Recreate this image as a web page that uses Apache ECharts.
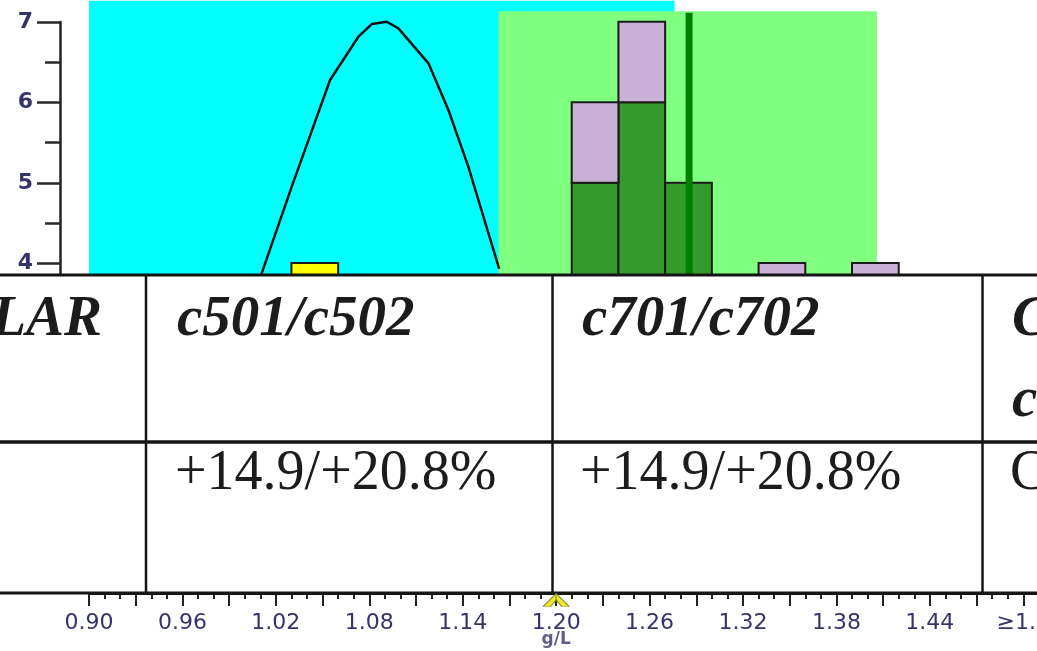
<!DOCTYPE html>
<html>
<head>
<meta charset="utf-8">
<script src="https://cdn.jsdelivr.net/npm/echarts@6/dist/echarts.min.js"></script>
<style>
html,body{margin:0;padding:0;background:#fff;}
#main{width:1037px;height:651px;}
</style>
</head>
<body>
<div id="main"></div>
<script>
// ---------- data ----------
const xLabelValues = [0.90, 0.96, 1.02, 1.08, 1.14, 1.20, 1.26, 1.32, 1.38, 1.44, 1.50];
const xLabelTexts  = ['0.90','0.96','1.02','1.08','1.14','1.20','1.26','1.32','1.38','1.44','≥1.5'];
const yLabelValues = [0, 1, 2, 3, 4, 5, 6, 7];

const cyanRange  = [0.90, 1.276];   // x extent
const cyanTop    = 7.26;
const greenRange = [1.163, 1.406];
const greenTop   = 7.13;

const binStarts   = [1.03, 1.21, 1.24, 1.27, 1.33, 1.39];
const binWidth    = 0.03;
const yellowCounts = [4, 0, 0, 0, 0, 0];
const greenCounts  = [0, 5, 6, 5, 0, 0];
const lilacCounts  = [0, 1, 1, 0, 4, 4];

const curveX = [1.0105, 1.0302, 1.0548, 1.0730, 1.0816, 1.0912, 1.0987, 1.1180, 1.1308, 1.1436, 1.1634];
const curveY = [3.85, 4.95, 6.276, 6.814, 6.971, 7.0, 6.918, 6.483, 5.903, 5.199, 3.93];

const meanValue = 1.2854;
const meanTop   = 7.11;
const targetValue = 1.20;
const unitLabel = 'g/L';

const headerTexts = ['LAR', 'c501/c502', 'c701/c702', 'C'];
const headerLine2 = ['', '', '', 'c'];
const bodyTexts   = ['', '+14.9/+20.8%', '+14.9/+20.8%', 'C'];

// ---------- chart ----------
const chart = echarts.init(document.getElementById('main'), null, {renderer: 'canvas'});

function stackedRender(counts, bases, color) {
  return function (params, api) {
    const i = params.dataIndex;
    const start = api.value(0), cnt = api.value(1);
    if (!cnt) return null;
    const base = bases[i];
    const p0 = api.coord([start, base]);
    const p1 = api.coord([start + binWidth, base + cnt]);
    return {
      type: 'rect',
      shape: {x: p0[0], y: p1[1], width: p1[0] - p0[0], height: p0[1] - p1[1]},
      style: {fill: color, stroke: '#1a1a1a', lineWidth: 2}
    };
  };
}
const zeroBase = binStarts.map(() => 0);
const lilacBase = binStarts.map((_, i) => yellowCounts[i] + greenCounts[i]);

function rangeRender(range, top, color) {
  return function (params, api) {
    const p0 = api.coord([range[0], 0]);
    const p1 = api.coord([range[1], top]);
    return {type: 'rect', shape: {x: p0[0], y: p1[1], width: p1[0] - p0[0], height: p0[1] - p1[1]},
      style: {fill: color}};
  };
}

const labelFont = {fontFamily: 'DejaVu Sans', color: '#34346a'};

const tableZ = 100;
const serifBI = {fontFamily: 'Liberation Serif', fontWeight: 'bold', fontStyle: 'italic', fontSize: 57, fill: '#1c1c1c'};
const serifR  = {fontFamily: 'Liberation Serif', fontWeight: 'normal', fontStyle: 'normal', fontSize: 56, fill: '#1c1c1c'};
const colX = [102, 177, 582, 1012];
const graphics = [
  {type: 'rect', z: tableZ, shape: {x: 0, y: 274, width: 1037, height: 319}, style: {fill: '#ffffff'}},
  {type: 'line', z: tableZ + 1, shape: {x1: 0, y1: 275, x2: 1037, y2: 275}, style: {stroke: '#151515', lineWidth: 3}},
  {type: 'line', z: tableZ + 1, shape: {x1: 0, y1: 442, x2: 1037, y2: 442}, style: {stroke: '#151515', lineWidth: 3.5}},
  {type: 'line', z: tableZ + 1, shape: {x1: 0, y1: 593, x2: 1037, y2: 593}, style: {stroke: '#151515', lineWidth: 3}},
  {type: 'line', z: tableZ + 1, shape: {x1: 146, y1: 275, x2: 146, y2: 593}, style: {stroke: '#151515', lineWidth: 2.5}},
  {type: 'line', z: tableZ + 1, shape: {x1: 552.5, y1: 275, x2: 552.5, y2: 593}, style: {stroke: '#151515', lineWidth: 2.5}},
  {type: 'line', z: tableZ + 1, shape: {x1: 982.5, y1: 275, x2: 982.5, y2: 593}, style: {stroke: '#151515', lineWidth: 2.5}}
];
headerTexts.forEach((t, i) => {
  if (!t) return;
  graphics.push({type: 'text', z: tableZ + 2, x: colX[i], y: 320,
    style: Object.assign({text: t, textAlign: i === 0 ? 'right' : 'left', textVerticalAlign: 'middle'}, serifBI)});
});
headerLine2.forEach((t, i) => {
  if (!t) return;
  graphics.push({type: 'text', z: tableZ + 2, x: colX[i], y: 401,
    style: Object.assign({text: t, textAlign: 'left', textVerticalAlign: 'middle'}, serifBI)});
});
bodyTexts.forEach((t, i) => {
  if (!t) return;
  graphics.push({type: 'text', z: tableZ + 2, x: colX[i] - 2, y: 474,
    style: Object.assign({text: t, textAlign: 'left', textVerticalAlign: 'middle'}, serifR)});
});

const option = {
  animation: false,
  backgroundColor: '#ffffff',
  grid: [
    {left: 89, width: 981, top: 0, bottom: 58, containLabel: false, outerBoundsMode: 'none'},
    {left: 60, width: 10, top: 22, bottom: 66, containLabel: false, outerBoundsMode: 'none'}
  ],
  xAxis: [
    {
      gridIndex: 0, type: 'value', min: 0.90, max: 1.53, interval: 0.03,
      axisLine: {show: true, onZero: false, lineStyle: {color: '#151515', width: 3}},
      axisTick: {show: true, length: 13, lineStyle: {color: '#222', width: 2}},
      minorTick: {show: true, splitNumber: 3, length: 6, lineStyle: {color: '#222', width: 2}},
      splitLine: {show: false},
      axisLabel: Object.assign({
        margin: 19, fontSize: 22,
        formatter: function (v) {
          const c = Math.round(v * 1000);
          const k = xLabelValues.findIndex(x => Math.round(x * 1000) === c);
          return k >= 0 ? xLabelTexts[k] : '';
        }
      }, labelFont)
    },
    {gridIndex: 1, type: 'value', show: false, min: 0, max: 1}
  ],
  yAxis: [
    {gridIndex: 0, type: 'value', show: false, min: -0.1, max: 7.27, splitLine: {show: false}},
    {
      gridIndex: 1, type: 'value', min: 0, max: 7, interval: 1,
      axisLine: {show: true, lineStyle: {color: '#222', width: 2.5}},
      axisTick: {show: true, length: 23, lineStyle: {color: '#2a2a2a', width: 2.5}},
      minorTick: {show: true, splitNumber: 2, length: 15, lineStyle: {color: '#2a2a2a', width: 2.5}},
      splitLine: {show: false},
      axisLabel: Object.assign({margin: 27, fontSize: 22, fontWeight: 'bold',
        formatter: v => yLabelValues.indexOf(v) >= 0 ? String(v) : ''}, labelFont)
    }
  ],
  series: [
    {type: 'custom', xAxisIndex: 0, yAxisIndex: 0, z: 1, silent: true,
      renderItem: rangeRender(cyanRange, cyanTop, '#00ffff'), data: [[cyanRange[0], cyanRange[1]]]},
    {type: 'custom', xAxisIndex: 0, yAxisIndex: 0, z: 1, silent: true,
      renderItem: rangeRender(greenRange, greenTop, '#80ff80'), data: [[greenRange[0], greenRange[1]]]},
    {type: 'line', xAxisIndex: 0, yAxisIndex: 0, z: 3, symbol: 'none', smooth: false,
      lineStyle: {color: '#111', width: 2.5},
      data: curveX.map((x, i) => [x, curveY[i]])},
    {type: 'custom', xAxisIndex: 0, yAxisIndex: 0, z: 4,
      renderItem: stackedRender(yellowCounts, zeroBase, '#ffff00'),
      data: binStarts.map((s, i) => [s, yellowCounts[i]])},
    {type: 'custom', xAxisIndex: 0, yAxisIndex: 0, z: 4,
      renderItem: stackedRender(greenCounts, zeroBase, '#349a2c'),
      data: binStarts.map((s, i) => [s, greenCounts[i]])},
    {type: 'custom', xAxisIndex: 0, yAxisIndex: 0, z: 4,
      renderItem: stackedRender(lilacCounts, lilacBase, '#c8b0d6'),
      data: binStarts.map((s, i) => [s, lilacCounts[i]])},
    {type: 'line', xAxisIndex: 0, yAxisIndex: 0, z: 5, symbol: 'none',
      lineStyle: {color: '#008000', width: 7},
      data: [[meanValue, 0], [meanValue, meanTop]]},
    {type: 'scatter', xAxisIndex: 0, yAxisIndex: 0, z: 150, zlevel: 1, clip: false,
      symbol: 'path://M0,12 L12,0 L24,12 L17,12 L12,6 L7,12 Z',
      symbolSize: [26, 13], symbolOffset: [0, 7],
      itemStyle: {color: '#e8e400', borderColor: '#7a7a10', borderWidth: 1},
      label: {show: true, position: 'bottom', distance: 24, formatter: unitLabel,
        fontFamily: 'DejaVu Sans', fontWeight: 'bold', fontSize: 17, color: '#34346a'},
      data: [[targetValue, -0.1]]}
  ],
  graphic: {elements: graphics}
};
chart.setOption(option);
</script>
</body>
</html>
